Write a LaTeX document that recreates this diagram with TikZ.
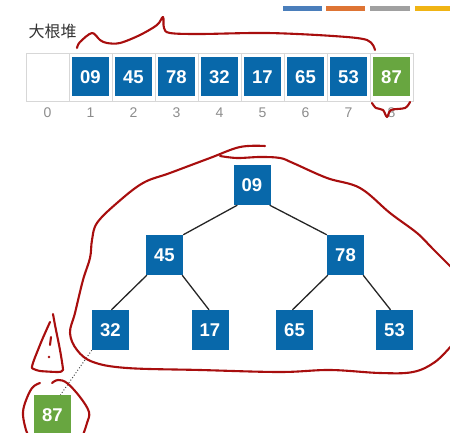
\documentclass[tikz,border=0pt]{standalone}
\usepackage{fontspec}
\setmainfont{Liberation Sans}
\newfontfamily\cjk{Noto Sans CJK SC}
\definecolor{hblue}{RGB}{8,104,170}
\definecolor{hgreen}{RGB}{104,166,64}
\definecolor{hred}{RGB}{168,14,14}
\definecolor{cellgray}{RGB}{215,215,215}
\definecolor{idxgray}{RGB}{140,140,140}
\definecolor{barblue}{RGB}{74,126,187}
\definecolor{barorange}{RGB}{222,116,52}
\definecolor{bargray}{RGB}{160,160,160}
\definecolor{baryellow}{RGB}{240,180,20}
\tikzset{
  cellbox/.style={draw=cellgray, line width=0.8pt, minimum width=43pt, minimum height=48pt, inner sep=0pt},
  numbox/.style={fill=hblue, text=white, minimum width=37pt, minimum height=39pt, inner sep=0pt, font=\bfseries\fontsize{18.5}{18.5}\selectfont},
  treebox/.style={numbox, minimum width=37pt, minimum height=40pt},
  greenbox/.style={numbox, fill=hgreen},
  idx/.style={text=idxgray, font=\fontsize{14}{14}\selectfont},
  edge/.style={line width=1.3pt, black!85},
  ink/.style={hred, line width=2.1pt, line cap=round, line join=round},
  bar/.style={line width=0pt}
}
\begin{document}
\begin{tikzpicture}[x=1pt,y=-1pt]
\useasboundingbox (0,0) rectangle (450,433);
% colour bars
\fill[barblue] (283,6) rectangle (322,11);
\fill[barorange] (326,6) rectangle (365,11);
\fill[bargray] (370,6) rectangle (410,11);
\fill[baryellow] (415,6) rectangle (450,11);
% title
\node[anchor=west, text=black!80, font=\cjk\fontsize{16}{16}\selectfont] (title) at (25,31) {大根堆};
% array cells
\foreach \i in {0,...,8} {
  \node[cellbox] (c\i) at (47.5+43*\i,77) {};
  \node[idx] (i\i) at (47.5+43*\i,113) {\i};
}
\node[numbox] (a1) at (c1) {09};
\node[numbox] (a2) at (c2) {45};
\node[numbox] (a3) at (c3) {78};
\node[numbox] (a4) at (c4) {32};
\node[numbox] (a5) at (c5) {17};
\node[numbox] (a6) at (c6) {65};
\node[numbox] (a7) at (c7) {53};
\node[greenbox] (a8) at (c8) {87};
% tree
\node[treebox] (t09) at (252,185) {09};
\node[treebox] (t45) at (164.5,255) {45};
\node[treebox] (t78) at (345.5,255) {78};
\node[treebox] (t32) at (110.5,330) {32};
\node[treebox] (t17) at (210,330) {17};
\node[treebox] (t65) at (294.5,330) {65};
\node[treebox] (t53) at (394.5,330) {53};
\node[greenbox, minimum height=40pt] (t87) at (52.5,415) {87};
\draw[edge] ([xshift=4pt]t09.south west) -- (t45.north east);
\draw[edge] ([xshift=-1pt]t09.south east) -- (t78.north west);
\draw[edge] ([xshift=1pt]t45.south west) -- ([xshift=1pt]t32.north);
\draw[edge] ([xshift=-1pt]t45.south east) -- ([xshift=-1pt]t17.north);
\draw[edge] ([xshift=1pt]t78.south west) -- ([xshift=-2pt]t65.north);
\draw[edge] ([xshift=-1pt]t78.south east) -- ([xshift=-4pt]t53.north);
\draw[black!70, line width=1pt, dotted] (t32.south west) -- ([xshift=8pt]t87.north);
% red annotations
\draw[ink] plot[smooth, tension=0.55] coordinates {(77,48) (80,42) (92,33) (100,40) (107,43) (120,43) (140,35) (157,25) (163,17) (164,28) (170,33) (200,34) (267,33) (333,36) (367,40) (375,50)};
\draw[ink] plot[smooth, tension=0.55] coordinates {(372,103) (376,108) (383,110) (387,117) (391,110) (405,108) (410,102)};
\draw[ink] plot[smooth, tension=0.6] coordinates {(265,146) (240,147) (210,158) (170,173) (143,183) (117,203) (97,223) (92,240) (90,258) (83,280) (75,313) (70,333) (77,350) (93,362) (127,368) (200,370) (280,372) (330,370) (380,373) (413,372) (435,362) (452,345)};
\draw[ink] plot[smooth, tension=0.6] coordinates {(220,156) (237,158) (260,157) (280,158) (293,163) (327,178) (360,188) (390,213) (417,233) (432,248) (452,268)};
\draw[ink] plot[smooth, tension=0.3] coordinates {(53,314) (55,325) (60,350) (63,370) (58,372) (40,371) (32,368) (34,360) (42,340) (50,322)};
\draw[ink] (51,337) -- (50,345);
\fill[hred] (49,357) circle (1.4);
\draw[ink] plot[smooth, tension=0.6] coordinates {(40,383) (32,388) (25,403) (23,415) (26,430) (29,436)};
\draw[ink] plot[smooth, tension=0.6] coordinates {(52,383) (58,380) (67,383) (80,397) (89,412) (87,423) (83,435)};
\end{tikzpicture}
\end{document}
